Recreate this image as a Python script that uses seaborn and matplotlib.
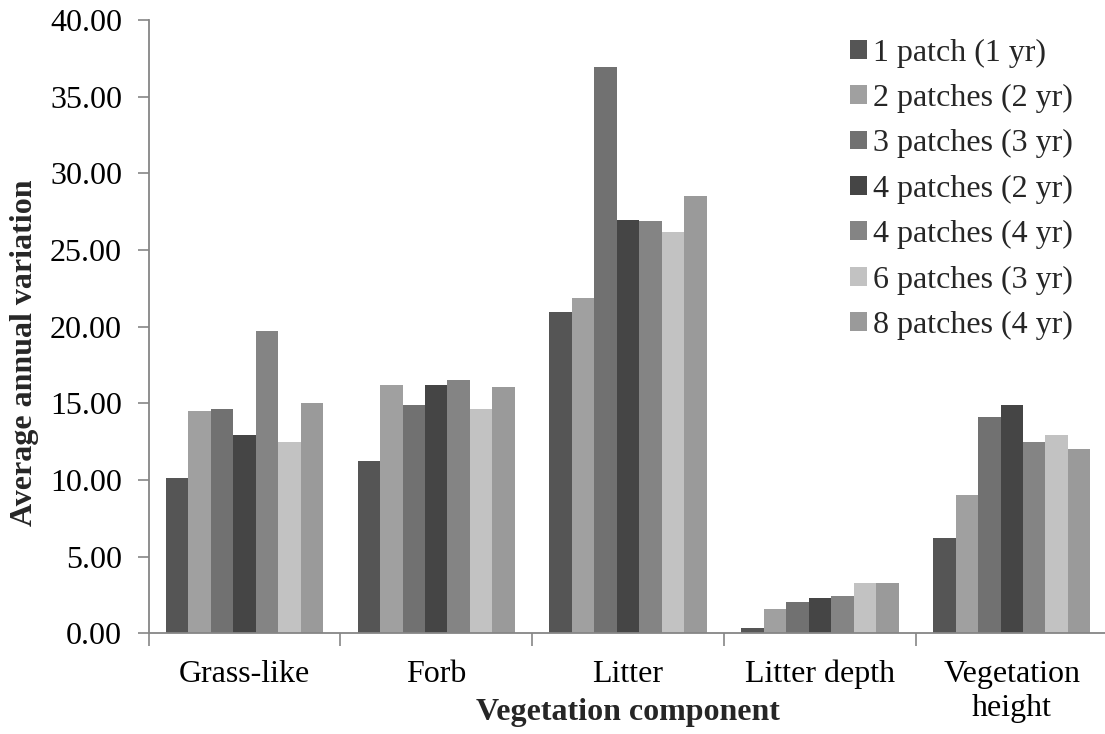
import matplotlib
matplotlib.use("Agg")
import matplotlib.pyplot as plt
import seaborn as sns
import pandas as pd
from matplotlib.ticker import FormatStrFormatter, FixedLocator

categories = ["Grass-like", "Forb", "Litter", "Litter depth", "Vegetation\nheight"]
series = ["1 patch (1 yr)", "2 patches (2 yr)", "3 patches (3 yr)", "4 patches (2 yr)",
          "4 patches (4 yr)", "6 patches (3 yr)", "8 patches (4 yr)"]
grass_like = [10.15, 14.52, 14.61, 12.94, 19.72, 12.48, 15.02]
forb = [11.26, 16.20, 14.91, 16.22, 16.52, 14.61, 16.07]
litter = [20.97, 21.87, 36.92, 26.94, 26.87, 26.20, 28.53]
litter_depth = [0.35, 1.57, 2.04, 2.28, 2.45, 3.28, 3.28]
veg_height = [6.22, 9.00, 14.09, 14.91, 12.46, 12.96, 12.04]
colors = ["#555555", "#a0a0a0", "#717171", "#454545", "#848484", "#c2c2c2", "#9a9a9a"]

rows = []
for cat, vals in zip(categories, [grass_like, forb, litter, litter_depth, veg_height]):
    for s, v in zip(series, vals):
        rows.append({"component": cat, "group": s, "value": v})
df = pd.DataFrame(rows)

sns.set_style("white")
plt.rcParams["font.family"] = ["Liberation Serif", "DejaVu Serif"]

W, H = 1105, 734
fig = plt.figure(figsize=(W / 100, H / 100), dpi=100)
ax = fig.add_axes([148.5 / W, (H - 633.3) / H, 959.2 / W, 613.3 / H])

sns.barplot(data=df, x="component", y="value", hue="group", order=categories,
            hue_order=series, palette=colors, width=0.82, gap=0, linewidth=0,
            saturation=1, ax=ax, legend=True)

ax.set_xlim(-0.5, 4.5)
ax.set_ylim(0, 40)
ax.set_yticks([0, 5, 10, 15, 20, 25, 30, 35, 40])
ax.yaxis.set_major_formatter(FormatStrFormatter("%.2f"))

ax.xaxis.set_minor_locator(FixedLocator([-0.5, 0.5, 1.5, 2.5, 3.5, 4.5]))
ax.tick_params(axis="x", which="major", length=0, pad=19, labelsize=23, labelcolor="black")
ax.tick_params(axis="x", which="minor", length=9, width=1.2, color="#868686", direction="out", bottom=True)
ax.tick_params(axis="y", which="major", length=8, width=1.2, color="#868686", direction="out",
               pad=11, labelsize=23, labelcolor="black", left=True)
for lab in ax.get_xticklabels():
    lab.set_linespacing(1.25)

for side in ["top", "right"]:
    ax.spines[side].set_visible(False)
for side in ["left", "bottom"]:
    ax.spines[side].set_color("#868686")
    ax.spines[side].set_linewidth(1.3)

ax.set_xlabel("")
ax.set_ylabel("")
fig.text(628 / W, 1 - 720 / H, "Vegetation component", ha="center", va="baseline",
         fontsize=23, fontweight="bold")
fig.text(25 / W, 1 - 353 / H, "Average annual variation", ha="center", va="center",
         rotation=90, fontsize=23, fontweight="bold")

handles, labels = ax.get_legend_handles_labels()
ax.legend(handles, labels, loc="upper left", bbox_to_anchor=(850 / W, 1 - 38.5 / H),
          bbox_transform=fig.transFigure, frameon=False, fontsize=23,
          handlelength=0.52, handleheight=0.52, handletextpad=0.19,
          labelspacing=0.51, borderpad=0, borderaxespad=0)

fig.savefig("out.png", dpi=100)
